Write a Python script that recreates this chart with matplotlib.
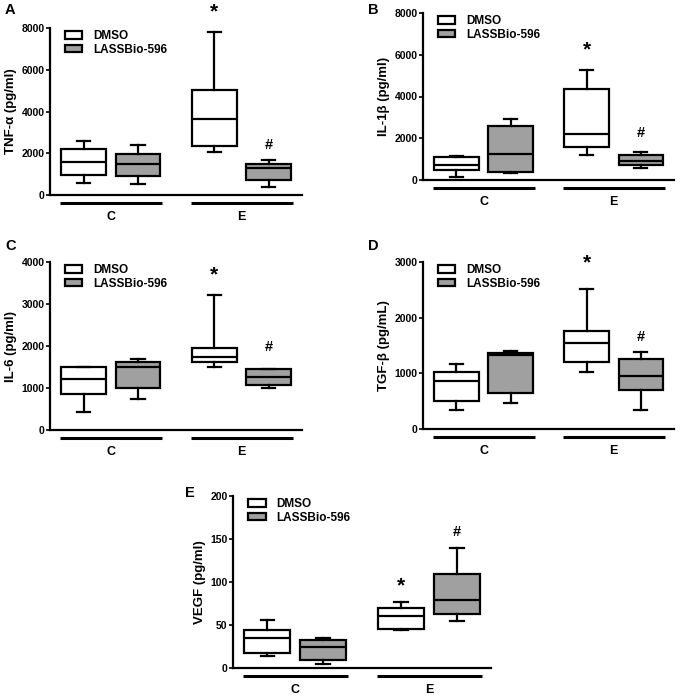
import matplotlib
matplotlib.use("Agg")
import matplotlib.pyplot as plt
from matplotlib.patches import Patch

plt.rcParams['font.family'] = ['Liberation Sans', 'DejaVu Sans']
plt.rcParams['font.weight'] = 'bold'

# five-number summaries: [whisker low, Q1, median, Q3, whisker high]
groups = ["C", "E"]
series = ["DMSO", "LASSBio-596"]

tnf_dmso_c = [560, 960, 1570, 2210, 2590]
tnf_lass_c = [510, 930, 1470, 1970, 2400]
tnf_dmso_e = [2080, 2370, 3630, 5040, 7790]
tnf_lass_e = [370, 700, 1280, 1490, 1680]

il1_dmso_c = [160, 480, 720, 1110, 1160]
il1_lass_c = [320, 400, 1230, 2610, 2920]
il1_dmso_e = [1200, 1590, 2200, 4380, 5290]
il1_lass_e = [560, 720, 930, 1180, 1320]

il6_dmso_c = [420, 860, 1210, 1490, 1510]
il6_lass_c = [740, 990, 1490, 1620, 1690]
il6_dmso_e = [1490, 1610, 1750, 1950, 3220]
il6_lass_e = [1010, 1070, 1260, 1450, 1460]

tgf_dmso_c = [350, 500, 870, 1020, 1170]
tgf_lass_c = [470, 650, 1330, 1370, 1400]
tgf_dmso_e = [1020, 1200, 1545, 1755, 2510]
tgf_lass_e = [350, 700, 950, 1265, 1375]

vegf_dmso_c = [13.5, 17.5, 35, 44.5, 56]
vegf_lass_c = [5, 9, 24, 33, 35]
vegf_dmso_e = [44, 45, 61, 70, 77]
vegf_lass_e = [55, 62.5, 79.5, 109, 140]

ylabels = ["TNF-\u03b1 (pg/ml)", "IL-1\u03b2 (pg/ml)", "IL-6 (pg/ml)",
           "TGF-\u03b2 (pg/mL)", "VEGF (pg/ml)"]
ymax = [8000, 8000, 4000, 3000, 200]
ystep = [2000, 2000, 1000, 1000, 50]
panel_letters = ["A", "B", "C", "D", "E"]
star_y = [8750, 6250, 3700, 2990, 95]
hash_y = [2400, 2250, 1975, 1650, 158]

data = [
    [tnf_dmso_c, tnf_lass_c, tnf_dmso_e, tnf_lass_e],
    [il1_dmso_c, il1_lass_c, il1_dmso_e, il1_lass_e],
    [il6_dmso_c, il6_lass_c, il6_dmso_e, il6_lass_e],
    [tgf_dmso_c, tgf_lass_c, tgf_dmso_e, tgf_lass_e],
    [vegf_dmso_c, vegf_lass_c, vegf_dmso_e, vegf_lass_e],
]

W, H = 680, 696
# axes rectangles in pixels: left, top, right, bottom
rects_px = [
    (50, 28, 302, 195),
    (423, 13, 674, 180),
    (50, 262, 302, 430),
    (423, 262, 674, 429),
    (233, 496, 491, 668),
]
letter_px = [(5, 10), (368, 10), (5, 246), (368, 246), (185, 493)]

positions = [1, 2, 3.4, 4.4]
colors = ["white", "#a0a0a0"]
LW = 1.6

fig = plt.figure(figsize=(W / 100, H / 100), dpi=100)

for i in range(5):
    l, t, r, b = rects_px[i]
    ax = fig.add_axes([l / W, 1 - b / H, (r - l) / W, (b - t) / H])
    stats = []
    for s in data[i]:
        stats.append(dict(whislo=s[0], q1=s[1], med=s[2], q3=s[3], whishi=s[4], fliers=[]))
    bp = ax.bxp(stats, positions=positions, widths=0.82, patch_artist=True,
                showfliers=False, capwidths=0.24,
                boxprops=dict(linewidth=LW, edgecolor='black'),
                medianprops=dict(color='black', linewidth=LW),
                whiskerprops=dict(color='black', linewidth=LW),
                capprops=dict(color='black', linewidth=LW))
    for j, patch in enumerate(bp['boxes']):
        patch.set_facecolor(colors[j % 2])
    ax.set_xlim(0.385, 5.01)
    ax.set_ylim(0, ymax[i])
    ax.set_yticks(range(0, ymax[i] + 1, ystep[i]))
    ax.tick_params(axis='y', labelsize=7.5, width=1.2, length=3, pad=1)
    ax.set_xticks([])
    for lab in ax.get_yticklabels():
        lab.set_fontweight('bold')
    for sp in ['top', 'right']:
        ax.spines[sp].set_visible(False)
    for sp in ['left', 'bottom']:
        ax.spines[sp].set_linewidth(1.6)
    ax.set_ylabel(ylabels[i], fontsize=9.5, fontweight='bold', labelpad=3)

    # group lines and labels
    for g, (p0, p1) in enumerate([(positions[0], positions[1]), (positions[2], positions[3])]):
        ax.plot([p0 - 0.43, p1 + 0.44], [-0.045, -0.045], color='black', linewidth=2.2,
                transform=ax.get_xaxis_transform(), clip_on=False, solid_capstyle='butt')
        ax.text((p0 + p1) / 2, -0.13, groups[g], transform=ax.get_xaxis_transform(),
                ha='center', va='center', fontsize=9, fontweight='bold')

    # significance marks
    ax.text(positions[2], star_y[i], '*', ha='center', va='center', fontsize=15,
            fontweight='bold', clip_on=False)
    ax.text(positions[3], hash_y[i], '#', ha='center', va='center', fontsize=10.5,
            fontweight='bold', clip_on=False)

    handles = [Patch(facecolor=colors[k], edgecolor='black', linewidth=1.6, label=series[k])
               for k in range(2)]
    ax.legend(handles=handles, loc='upper left', bbox_to_anchor=(0.03, 1.03), frameon=False,
              prop=dict(size=8.5, weight='bold'), handlelength=1.5, handleheight=0.6,
              handletextpad=0.9, labelspacing=0.15, borderaxespad=0.2)

    fig.text(letter_px[i][0] / W, 1 - letter_px[i][1] / H, panel_letters[i],
             fontsize=10.5, fontweight='bold', ha='left', va='center')

fig.savefig("out.png", dpi=100, facecolor='white')
